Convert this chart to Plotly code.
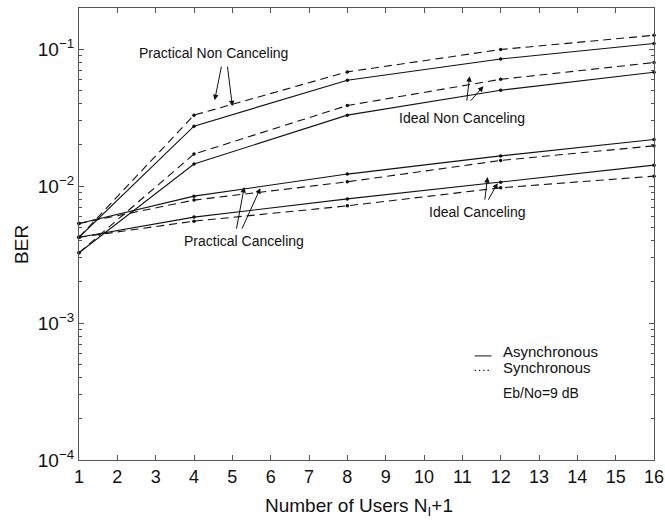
import plotly.graph_objects as go

users = [1, 4, 8, 12, 16]

async_practical_noncancel = [4.23e-3, 0.0274, 0.0594, 0.0849, 0.1101]
sync_practical_noncancel = [4.23e-3, 0.0330, 0.0683, 0.0995, 0.1264]
async_ideal_noncancel = [3.26e-3, 0.01449, 0.0330, 0.0502, 0.0679]
sync_ideal_noncancel = [3.26e-3, 0.01714, 0.0388, 0.0603, 0.0800]
async_practical_cancel = [5.34e-3, 8.45e-3, 0.01225, 0.01663, 0.0219]
sync_practical_cancel = [5.34e-3, 7.91e-3, 0.01075, 0.01541, 0.0197]
async_ideal_cancel = [4.23e-3, 5.94e-3, 8.07e-3, 0.01069, 0.01423]
sync_ideal_cancel = [4.23e-3, 5.55e-3, 7.18e-3, 9.73e-3, 0.01183]

x_ticks = list(range(1, 17))
y_tickvals = [1e-4, 1e-3, 1e-2, 1e-1]
y_ticktext = ["10<sup>\u22124</sup>", "10<sup>\u22123</sup>", "10<sup>\u22122</sup>", "10<sup>\u22121</sup>"]

FONT = "Liberation Sans, Arial, Helvetica, sans-serif"
AX = "#555555"

fig = go.Figure()

series = [
    (async_practical_noncancel, "solid"),
    (sync_practical_noncancel, "8px,5px"),
    (async_ideal_noncancel, "solid"),
    (sync_ideal_noncancel, "8px,5px"),
    (async_practical_cancel, "solid"),
    (sync_practical_cancel, "8px,5px"),
    (async_ideal_cancel, "solid"),
    (sync_ideal_cancel, "8px,5px"),
]
for vals, dash in series:
    fig.add_trace(go.Scatter(
        x=users, y=vals, mode="lines+markers",
        line=dict(color="#111111", width=1.1, dash=dash),
        marker=dict(color="#111111", size=3.5),
        showlegend=False, hoverinfo="skip", cliponaxis=False))

def arrow(x, logy, ax, ay):
    fig.add_annotation(x=x, y=logy, ax=ax, ay=ay, xref="x", yref="y",
                       showarrow=True, arrowhead=2, arrowsize=1.1, arrowwidth=1,
                       arrowcolor="#111111", text="")

def label(x, logy, text):
    fig.add_annotation(x=x, y=logy, xref="x", yref="y", text=text, showarrow=False,
                       xanchor="center",
                       font=dict(family=FONT, size=14, color="#111111"))

label(4.51, -1.029, "Practical Non Canceling")
arrow(4.54, -1.372, 7, -35)
arrow(5.0, -1.416, -5, -41)

label(10.98, -1.504, "Ideal Non Canceling")
arrow(11.19, -1.197, -3, 26)
arrow(11.55, -1.270, -14, 16)

label(5.31, -2.40, "Practical Canceling")
arrow(5.31, -2.007, -8, 43)
arrow(5.73, -2.015, -19, 42)

label(11.40, -2.19, "Ideal Canceling")
arrow(11.66, -1.934, -3, 24)
arrow(11.92, -1.978, -10, 18)

# legend-like text block
for txt, ly, fs in [("Asynchronous", -3.205, 15), ("Synchronous", -3.322, 15), ("Eb/No=9 dB", -3.512, 14)]:
    fig.add_annotation(x=12.02, y=ly, xref="x", yref="y", text=txt, showarrow=False,
                       xanchor="left", font=dict(family=FONT, size=fs, color="#111111"))
fig.add_shape(type="line", xref="x", yref="y", x0=11.32, x1=11.76,
              y0=10 ** -3.24, y1=10 ** -3.24, line=dict(color="#111111", width=1))
fig.add_shape(type="line", xref="x", yref="y", x0=11.32, x1=11.76,
              y0=10 ** -3.345, y1=10 ** -3.345, line=dict(color="#111111", width=1.3, dash="1.3px,3px"))

# axis titles
fig.add_annotation(xref="paper", yref="paper", x=-0.099, y=0.476, text="BER", textangle=-90,
                   xanchor="center", yanchor="middle",
                   showarrow=False, font=dict(family=FONT, size=19, color="#111111"))
fig.add_annotation(xref="paper", yref="paper", x=0.487, y=-0.104, xanchor="center", yanchor="middle",
                   text="Number of Users N<sub>I</sub>+1", showarrow=False,
                   font=dict(family=FONT, size=19, color="#111111"))

fig.update_layout(
    width=665, height=521,
    margin=dict(l=79, r=11, t=8, b=61),
    paper_bgcolor="white", plot_bgcolor="white",
    font=dict(family=FONT, size=18, color="#111111"),
)
fig.update_xaxes(
    range=[1, 16], tickvals=x_ticks, ticks="inside", ticklen=5, tickcolor=AX,
    showline=True, linecolor=AX, linewidth=1.2, mirror="allticks", showgrid=False,
    zeroline=False, tickfont=dict(size=18), automargin=False, ticklabeloverflow="allow",
)
fig.update_yaxes(
    type="log", range=[-4, -0.699], tickvals=y_tickvals, ticktext=y_ticktext,
    ticks="inside", ticklen=5, tickcolor=AX, automargin=False, ticklabeloverflow="allow",
    showline=True, linecolor=AX, linewidth=1.2, mirror="allticks", showgrid=False,
    zeroline=False, tickfont=dict(size=19),
    minor=dict(ticks="inside", ticklen=3, tickcolor=AX, dtick="D1", showgrid=False),
)

fig.write_html(
    "out.html",
    config={"displayModeBar": False},
    post_script="document.body.style.margin='0';document.documentElement.style.overflow='hidden';document.body.style.overflow='hidden';",
)
